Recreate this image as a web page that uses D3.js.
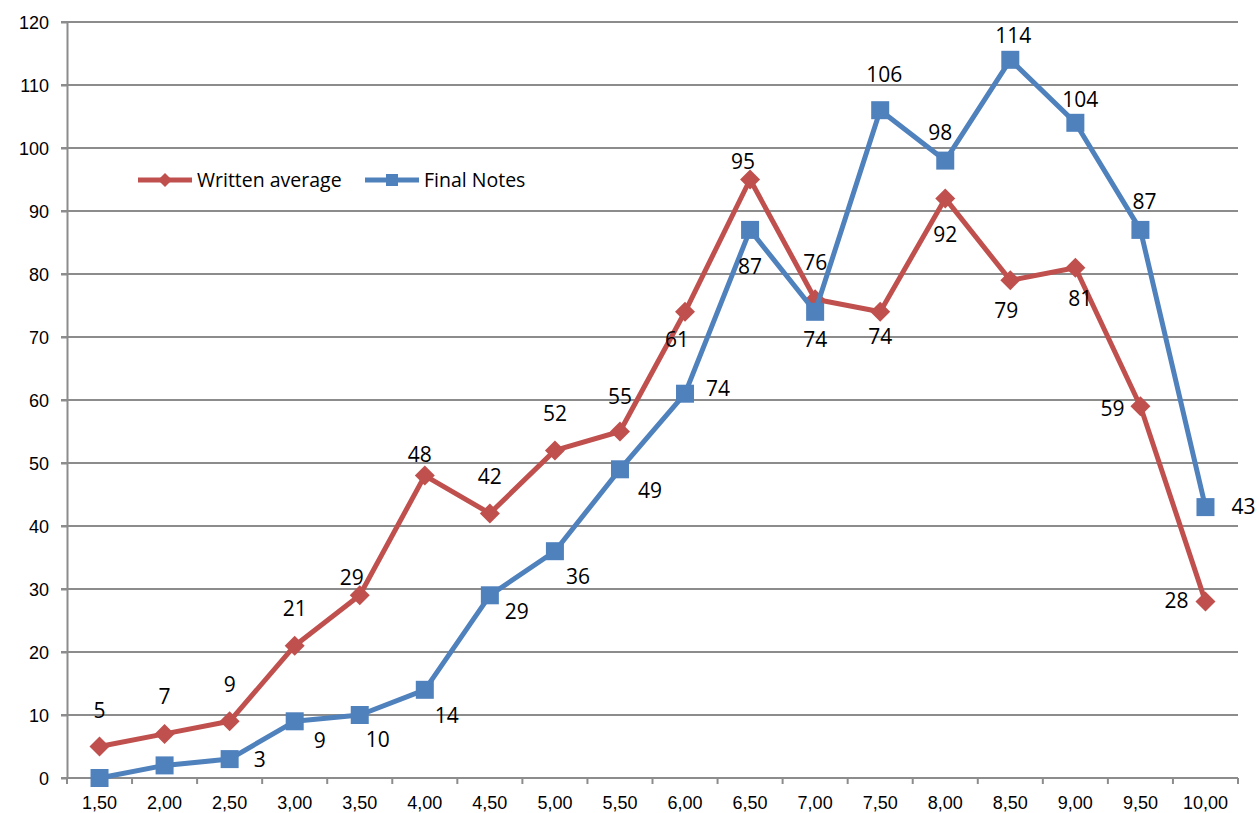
<!DOCTYPE html>
<html>
<head>
<meta charset="utf-8">
<script src="https://cdn.jsdelivr.net/npm/d3@7"></script>
<style>
  body { margin: 0; background: #fff; }
  .grid line { stroke: #8c8c8c; stroke-width: 2; }
  .axis path, .axis line { stroke: #8c8c8c; stroke-width: 2; }
  .axis text { font-family: "Liberation Sans", Arial, sans-serif; font-size: 18px; fill: #000; }
  .lbl { font-family: "Open Sans", "Noto Sans", sans-serif; font-size: 21px; fill: #000; }
</style>
</head>
<body>
<script>
var categories = ["1,50","2,00","2,50","3,00","3,50","4,00","4,50","5,00","5,50","6,00","6,50","7,00","7,50","8,00","8,50","9,00","9,50","10,00"];
var writtenAverage = [5,7,9,21,29,48,42,52,55,74,95,76,74,92,79,81,59,28];
var finalNotes = [0,2,3,9,10,14,29,36,49,61,87,74,106,98,114,104,87,43];
// label texts as shown on the picture
var writtenLabels = ["5","7","9","21","29","48","42","52","55","61","95","76","74","92","79","81","59","28"];
var finalLabels = ["","","3","9","10","14","29","36","49","74","87","74","106","98","114","104","87","43"];
var yTicks = [0,10,20,30,40,50,60,70,80,90,100,110,120];

// label placement (dx, dy from marker)
var writtenOffset = [[0,-36],[0,-37],[0,-37],[0,-37],[-8,-18],[-5,-21],[0,-37],[0,-37],[0,-35],[-8,28],[-7,-18],[0,-37],[0,25],[0,36],[-4,30],[5,31],[-28,2],[-29,-1]];
var finalOffset = [[0,0],[0,0],[30,1],[25,19],[18,25],[22,26],[27,16],[23,25],[30,21],[33,-5],[0,37],[0,28],[4,-36],[-5,-28],[3,-24],[5,-23],[4,-28],[38,0]];

var margin = {top: 22, right: 21, left: 67},
    width = 1259 - margin.left - margin.right,
    height = 778 - margin.top;

var svg = d3.select("body").append("svg")
    .attr("width", 1259)
    .attr("height", 813)
  .append("g")
    .attr("transform", "translate(" + margin.left + "," + margin.top + ")");

var x = d3.scaleBand().domain(categories).range([0, width]);
var y = d3.scaleLinear().domain([0, 120]).range([height, 0]);

svg.append("g")
    .attr("class", "grid")
  .selectAll("line")
    .data(yTicks)
  .enter().append("line")
    .attr("x1", -6)
    .attr("x2", width)
    .attr("y1", d => y(d))
    .attr("y2", d => y(d));

svg.append("g")
    .attr("class", "axis")
    .call(d3.axisLeft(y).tickValues(yTicks).tickSize(6).tickPadding(12).tickSizeOuter(0))
    .call(g => g.selectAll("text").attr("dy", "0.35em"));

// x axis with ticks between categories
var xAxis = svg.append("g")
    .attr("class", "axis")
    .attr("transform", "translate(0," + height + ")");
xAxis.append("line").attr("x1", 0).attr("x2", width);
xAxis.selectAll(".tk")
    .data(d3.range(categories.length + 1))
  .enter().append("line")
    .attr("class", "tk")
    .attr("x1", i => i * x.step())
    .attr("x2", i => i * x.step())
    .attr("y1", 0).attr("y2", 6);
xAxis.selectAll("text")
    .data(categories)
  .enter().append("text")
    .attr("x", d => x(d) + x.bandwidth() / 2)
    .attr("y", 25)
    .attr("dy", "0.35em")
    .attr("text-anchor", "middle")
    .text(d => d);

var cx = function(i) { return x(categories[i]) + x.bandwidth() / 2; };

var line = d3.line()
    .x((d, i) => cx(i))
    .y(d => y(d));

var series = [
  {name: "Written average", values: writtenAverage, labels: writtenLabels, offset: writtenOffset, color: "#C0504D", shape: "diamond"},
  {name: "Final Notes", values: finalNotes, labels: finalLabels, offset: finalOffset, color: "#4F81BD", shape: "square"}
];

function marker(sel, s, size) {
  if (s.shape === "diamond") {
    sel.append("path")
      .attr("d", "M0," + (-size) + "L" + size + ",0L0," + size + "L" + (-size) + ",0Z")
      .attr("fill", s.color);
  } else {
    sel.append("rect")
      .attr("x", -size).attr("y", -size)
      .attr("width", size * 2).attr("height", size * 2)
      .attr("fill", s.color);
  }
}

series.forEach(function(s) {
  svg.append("path")
      .datum(s.values)
      .attr("fill", "none")
      .attr("stroke", s.color)
      .attr("stroke-width", 5)
      .attr("stroke-linejoin", "round")
      .attr("d", line);

  s.values.forEach(function(v, i) {
    var g = svg.append("g").attr("transform", "translate(" + cx(i) + "," + y(v) + ")");
    marker(g, s, s.shape === "diamond" ? 10 : 9);
  });
});

series.forEach(function(s) {
  s.values.forEach(function(v, i) {
    if (!s.labels[i]) return;
    svg.append("text")
      .attr("class", "lbl")
      .attr("x", cx(i) + s.offset[i][0])
      .attr("y", y(v) + s.offset[i][1])
      .attr("dy", "0.35em")
      .attr("text-anchor", "middle")
      .text(s.labels[i]);
  });
});

// legend
var legend = svg.append("g").attr("transform", "translate(" + (138 - margin.left) + "," + (180 - margin.top) + ")");
series.forEach(function(s, i) {
  var lg = legend.append("g").attr("transform", "translate(" + (i * 227) + ",0)");
  lg.append("line").attr("x1", 0).attr("x2", 54)
    .attr("stroke", s.color).attr("stroke-width", 5);
  var m = lg.append("g").attr("transform", "translate(27,0)");
  marker(m, s, s.shape === "diamond" ? 7 : 6);
  lg.append("text")
    .attr("x", 59)
    .attr("dy", "0.35em")
    .style("font-family", "'Open Sans', 'Noto Sans', sans-serif")
    .style("font-size", "19.5px")
    .text(s.name);
});
</script>
</body>
</html>
